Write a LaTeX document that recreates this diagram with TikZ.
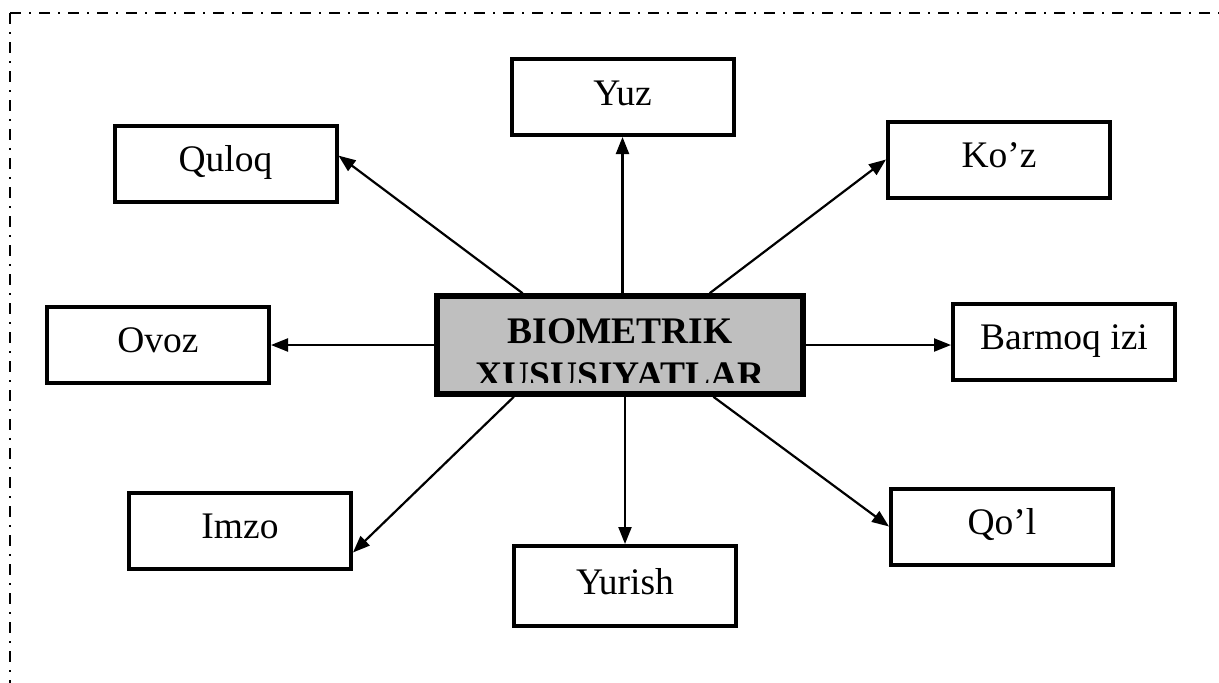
\documentclass[tikz,border=0pt]{standalone}
\usepackage{fontspec}
\setmainfont{Liberation Serif}
\usetikzlibrary{arrows.meta}

\begin{document}
\begin{tikzpicture}[x=1pt,y=-1pt,
  part/.style={draw,line width=4pt,fill=white,inner sep=0pt,
    minimum width=222pt,minimum height=76pt,
    font=\fontsize{37.5}{44}\selectfont,text height=25pt,text depth=9pt},
  hub/.style={draw,line width=5.5pt,fill=black!25,inner sep=0pt,
    minimum width=366pt,minimum height=98pt},
  hubtext/.style={font=\fontsize{37.5}{44}\selectfont\bfseries,anchor=base},
  arr/.style={line width=2.2pt,-{Triangle[length=17pt,width=13pt]}},
  frame/.style={line width=2.7pt,dash pattern=on 11pt off 8pt on 2pt off 8pt}]
\useasboundingbox (0,0) rectangle (1219,683);

% dash-dot frame
\draw[frame] (10,13) -- (1219,13);
\draw[frame] (10,13) -- (10,683);

% centre
\node[hub] (bio) at (620,345) {};
\begin{scope}
\clip (bio.north west) rectangle ([yshift=14pt]bio.south east);
\node[hubtext] (bio1) at (620,343) {BIOMETRIK};
\node[hubtext] (bio2) at (620,387) {XUSUSIYATLAR};
\end{scope}

% parts
\node[part] (quloq) at (225.5,163.5) {Quloq};
\node[part] (yuz) at (622.5,97) {Yuz};
\node[part] (koz) at (999,159.5) {Ko’z};
\node[part] (ovoz) at (158,344.5) {Ovoz};
\node[part] (barmoq) at (1064,341.5) {Barmoq izi};
\node[part] (imzo) at (240,530.5) {Imzo};
\node[part,minimum height=80pt] (yurish) at (625,586) {Yurish};
\node[part] (qol) at (1002,526.5) {Qo’l};

% arrows
\draw[arr] (bio.152) -- (quloq.4);
\draw[arr] (bio.north -| yuz.south) -- (yuz.south);
\draw[arr] (bio.30) -- (koz.west);
\draw[arr] (bio.west) -- (bio.west -| ovoz.east);
\draw[arr] (bio.east) -- (bio.east -| barmoq.west);
\draw[arr] (bio.206) -- (imzo.349);
\draw[arr] (bio.south -| yurish.north) -- (yurish.north);
\draw[arr] (bio.331) -- (qol.west);
\end{tikzpicture}
\end{document}
